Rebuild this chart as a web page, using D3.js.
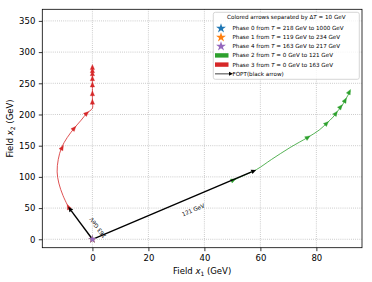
<!DOCTYPE html>
<html>
<head>
<meta charset="utf-8">
<script src="https://cdn.jsdelivr.net/npm/d3@7"></script>
<style>
  body { margin: 0; background: #fff; }
  text { font-family: "DejaVu Sans", sans-serif; }
</style>
</head>
<body>
<div id="chart"></div>
<script>
// phase 3 path (red), from T = 163 GeV down to T = 0
var phase3Path = [[-8.6, 52], [-10.5, 70], [-12, 90], [-12.6, 108], [-12.2, 128], [-11, 147],
    [-9, 163], [-6.5, 178], [-4, 191], [-2, 202], [0, 210], [0, 220], [0, 235], [0, 248],
    [0, 258], [0, 266], [0, 271], [0, 276]];
var phase3Arrows = [[-8.6, 52], [-10.8, 147], [-6.5, 178], [-2, 202], [0, 220.5], [0, 234],
    [0, 248], [0, 258], [0, 266], [0, 271], [0, 276]];

// phase 2 path (green), from T = 121 GeV down to T = 0
var phase2Path = [[49.5, 93], [54, 102], [58.7, 112], [64, 128], [70.6, 147], [77, 163.5],
    [81, 175], [83.7, 186], [86, 196], [87.5, 205], [89, 213], [90.3, 223], [91.3, 231], [92, 237]];
var phase2Arrows = [[50.4, 95], [77, 163.5], [83.7, 186], [87, 202], [88.7, 212.5], [90.3, 223], [91.8, 236.5]];

// first order transitions (black arrows)
var fopt = [
    {from: [0, 0], to: [-8.6, 52], label: "163 GeV", at: [1.9, 18.5]},
    {from: [0, 0], to: [58.5, 111], label: "121 GeV", at: [36, 47]}
];

// point-like phases (stars)
var starPhases = [
    {label: "Phase 0", t0: "218", t1: "1000", color: "#1f77b4", at: [0, 0]},
    {label: "Phase 1", t0: "119", t1: "234", color: "#ff7f0e", at: [0, 0]},
    {label: "Phase 4", t0: "163", t1: "217", color: "#9467bd", at: [0, 0]}
];

var xTicks = [0, 20, 40, 60, 80];
var yTicks = [0, 50, 100, 150, 200, 250, 300, 350];

var W = 372, H = 282;
var margin = {top: 9.3, right: 10, bottom: 34.3, left: 42.3};
var width = W - margin.left - margin.right,
    height = H - margin.top - margin.bottom;

var x = d3.scaleLinear().domain([-17.9, 96.3]).range([0, width]);
var y = d3.scaleLinear().domain([-13.5, 368.6]).range([height, 0]);

var svg = d3.select("#chart").append("svg")
    .attr("width", W).attr("height", H);
var g = svg.append("g")
    .attr("transform", "translate(" + margin.left + "," + margin.top + ")");

// grid
g.selectAll(".gx").data(xTicks).enter().append("line")
    .attr("x1", d => x(d)).attr("x2", d => x(d))
    .attr("y1", 0).attr("y2", height)
    .attr("stroke", "#b0b0b0").attr("stroke-width", 0.8).attr("stroke-dasharray", "0.8,1.3");
g.selectAll(".gy").data(yTicks).enter().append("line")
    .attr("y1", d => y(d)).attr("y2", d => y(d))
    .attr("x1", 0).attr("x2", width)
    .attr("stroke", "#b0b0b0").attr("stroke-width", 0.8).attr("stroke-dasharray", "0.8,1.3");

// axes
var xAxis = g.append("g").attr("transform", "translate(0," + height + ")")
    .call(d3.axisBottom(x).tickValues(xTicks).tickSize(3.5).tickPadding(3.5));
var yAxis = g.append("g")
    .call(d3.axisLeft(y).tickValues(yTicks).tickSize(3.5).tickPadding(3.5));
[xAxis, yAxis].forEach(function(a) {
    a.select(".domain").remove();
    a.selectAll("text").style("font-family", "DejaVu Sans").style("font-size", "8.5px").attr("fill", "#000");
    a.selectAll("line").attr("stroke", "#000").attr("stroke-width", 0.8);
});
g.append("rect").attr("width", width).attr("height", height)
    .attr("fill", "none").attr("stroke", "#000").attr("stroke-width", 0.8);

var line = d3.line().x(d => x(d[0])).y(d => y(d[1])).curve(d3.curveCatmullRom);

// heading of a path at a point, from the nearest segment
function heading(path, p) {
    var best = 0, bd = Infinity;
    for (var i = 0; i < path.length - 1; i++) {
        var mx = (path[i][0] + path[i + 1][0]) / 2, my = (path[i][1] + path[i + 1][1]) / 2;
        var dd = Math.pow(x(mx) - x(p[0]), 2) + Math.pow(y(my) - y(p[1]), 2);
        if (dd < bd) { bd = dd; best = i; }
    }
    var a = path[best], b = path[best + 1];
    return Math.atan2(y(b[1]) - y(a[1]), x(b[0]) - x(a[0])) * 180 / Math.PI;
}

function drawPhase(path, arrows, color) {
    g.append("path").datum(path).attr("d", line)
        .attr("fill", "none").attr("stroke", color).attr("stroke-width", 0.8);
    g.selectAll(null).data(arrows).enter().append("path")
        .attr("d", "M2.5,0 L-2.5,-2.2 L-2.5,2.2 Z")
        .attr("fill", color).attr("stroke", color).attr("stroke-width", 0.3)
        .attr("transform", d => "translate(" + x(d[0]) + "," + y(d[1]) + ") rotate(" + heading(path, d) + ")");
}
drawPhase(phase3Path, phase3Arrows, "#d62728");
drawPhase(phase2Path, phase2Arrows, "#2ca02c");

// black FOPT arrows
fopt.forEach(function(f) {
    var x0 = x(f.from[0]), y0 = y(f.from[1]), x1 = x(f.to[0]), y1 = y(f.to[1]);
    var ang = Math.atan2(y1 - y0, x1 - x0);
    var len = Math.hypot(x1 - x0, y1 - y0);
    var hl = 5;
    g.append("line")
        .attr("x1", x0).attr("y1", y0)
        .attr("x2", x0 + (len - hl) * Math.cos(ang)).attr("y2", y0 + (len - hl) * Math.sin(ang))
        .attr("stroke", "#000").attr("stroke-width", 1.4);
    g.append("path")
        .attr("d", "M0,0 L" + (-hl) + ",-2.3 L" + (-hl) + ",2.3 Z")
        .attr("fill", "#000")
        .attr("transform", "translate(" + x1 + "," + y1 + ") rotate(" + ang * 180 / Math.PI + ")");
    g.append("text")
        .attr("transform", "translate(" + x(f.at[0]) + "," + y(f.at[1]) + ") rotate(" + ang * 180 / Math.PI + ")")
        .attr("text-anchor", "middle").attr("dy", "0.35em")
        .style("font-size", "5.6px")
        .text(f.label);
});

// stars
var star = d3.symbol().type(d3.symbolStar).size(20);
g.selectAll(".star").data(starPhases).enter().append("path")
    .attr("d", star)
    .attr("fill", d => d.color)
    .attr("transform", d => "translate(" + x(d.at[0]) + "," + y(d.at[1]) + ")");

// axis labels
svg.append("text").attr("x", margin.left + width / 2).attr("y", 274)
    .attr("text-anchor", "middle").style("font-size", "8.5px")
    .html("Field <tspan font-style='italic'>x</tspan><tspan font-size='6px' dy='2'>1</tspan><tspan dy='-2'> (GeV)</tspan>");
svg.append("text").attr("transform", "translate(13," + (margin.top + height / 2) + ") rotate(-90)")
    .attr("text-anchor", "middle").style("font-size", "8.5px")
    .html("Field <tspan font-style='italic'>x</tspan><tspan font-size='6px' dy='2'>2</tspan><tspan dy='-2'> (GeV)</tspan>");

// legend
var lg = svg.append("g");
lg.append("rect").attr("x", 213.3).attr("y", 12.3).attr("width", 146).attr("height", 67)
    .attr("rx", 2).attr("fill", "#fff").attr("fill-opacity", 0.8)
    .attr("stroke", "#cccccc").attr("stroke-width", 0.8);
lg.append("text").attr("x", 286.3).attr("y", 19).attr("text-anchor", "middle")
    .style("font-size", "5.6px")
    .html("Colored arrows separated by Δ<tspan font-style='italic'>T</tspan> = 10 GeV");

var rowY = [28.3, 37.3, 46.3, 55.4, 64.6, 73.8];
var legendRows = starPhases.map(function(s) {
    return {kind: "star", color: s.color, label: s.label, t0: s.t0, t1: s.t1};
}).concat([
    {kind: "patch", color: "#2ca02c", label: "Phase 2", t0: "0", t1: "121"},
    {kind: "patch", color: "#d62728", label: "Phase 3", t0: "0", t1: "163"},
    {kind: "arrow", label: "FOPT(black arrow)"}
]);
legendRows.forEach(function(r, i) {
    var cy = rowY[i];
    if (r.kind === "star") {
        lg.append("path").attr("d", d3.symbol().type(d3.symbolStar).size(30))
            .attr("fill", r.color).attr("transform", "translate(221," + cy + ")");
    } else if (r.kind === "patch") {
        lg.append("rect").attr("x", 215).attr("y", cy - 2.2).attr("width", 13.5).attr("height", 4.4)
            .attr("fill", r.color);
    } else {
        lg.append("line").attr("x1", 215).attr("x2", 229).attr("y1", cy).attr("y2", cy)
            .attr("stroke", "#777").attr("stroke-width", 1.4);
        lg.append("path").attr("d", "M233,0 L229,-2 L229,2 Z").attr("fill", "#000")
            .attr("transform", "translate(0," + cy + ")");
    }
    var t = lg.append("text").attr("x", 232.5).attr("y", cy).attr("dy", "0.35em").style("font-size", "5.6px");
    if (r.t0 !== undefined) {
        t.html(r.label + " from <tspan font-style='italic'>T</tspan> = " + r.t0 + " GeV to " + r.t1 + " GeV");
    } else {
        t.text(r.label);
    }
});
</script>
</body>
</html>
